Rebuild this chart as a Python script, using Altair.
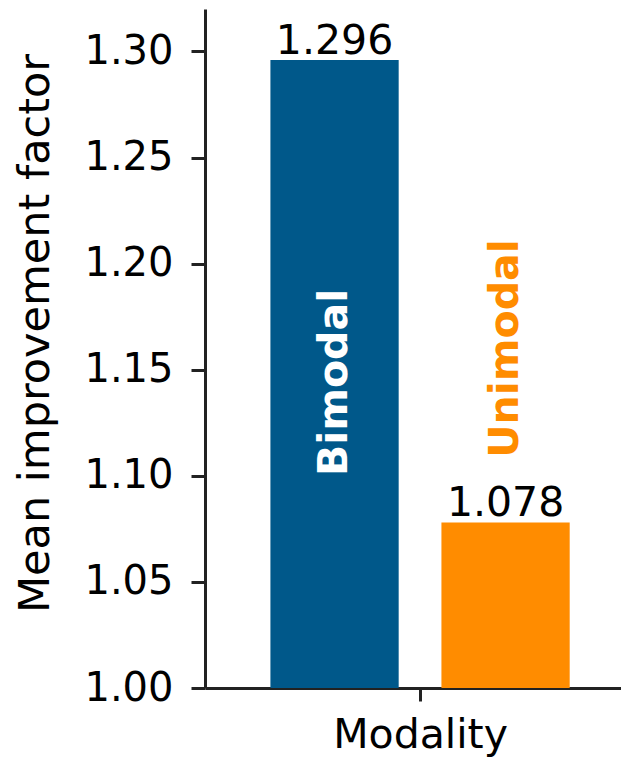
import altair as alt
import pandas as pd

# ---- data ----
categories = ["Bimodal", "Unimodal"]
values = [1.296, 1.078]
colors = ["#00588a", "#ff8c00"]
name_label_colors = ["#ffffff", "#ff8c00"]
y_ticks = [1.00, 1.05, 1.10, 1.15, 1.20, 1.25, 1.30]

# ---- layout constants ----
BAR_CENTERS = [-0.2, 0.2]
BAR_WIDTH = 0.3
NAME_LABEL_Y = [1.144, 1.160]
BASE = 1.0
FONT = "DejaVu Sans"

df = pd.DataFrame({
    "modality": categories,
    "value": values,
    "center": BAR_CENTERS,
    "label_y": NAME_LABEL_Y,
    "label_color": name_label_colors,
})
df["x_start"] = df["center"] - BAR_WIDTH / 2
df["x_end"] = df["center"] + BAR_WIDTH / 2
df["base"] = BASE
df["value_text"] = df["value"].map(lambda v: f"{v:.3f}")

xscale = alt.Scale(domain=[-0.503, 0.470], nice=False, zero=False)
yscale = alt.Scale(domain=[1.0, 1.32], nice=False, zero=False)

x_axis = alt.Axis(
    values=[0], labelExpr="'Modality'", title=None, grid=False,
    labelFont=FONT, labelFontSize=41, labelColor="black",
    tickSize=13, tickWidth=3, tickColor="#222222",
    domainWidth=3, domainColor="#222222", labelPadding=14,
)
y_axis = alt.Axis(
    values=y_ticks, format=".2f", title="Mean improvement factor", grid=False,
    labelFont=FONT, labelFontSize=40, labelColor="black",
    tickSize=14, tickWidth=3, tickColor="#222222",
    domainWidth=3, domainColor="#222222", labelPadding=18,
    titleFont=FONT, titleFontSize=43, titleFontWeight="normal", titleColor="black",
    titleAngle=270, titleAlign="center", titleBaseline="middle",
    titleX=-170, titleY=324,
)

base = alt.Chart(df)

bars = base.mark_bar().encode(
    x=alt.X("x_start:Q", scale=xscale, axis=x_axis),
    x2="x_end:Q",
    y=alt.Y("value:Q", scale=yscale, axis=y_axis),
    y2="base:Q",
    color=alt.Color("modality:N", scale=alt.Scale(domain=categories, range=colors), legend=None),
)

value_labels = base.mark_text(
    font=FONT, fontSize=41, baseline="alphabetic", align="center", dy=-6, color="black"
).encode(
    x=alt.X("center:Q", scale=xscale),
    y=alt.Y("value:Q", scale=yscale),
    text="value_text:N",
)

name_labels = base.mark_text(
    font=FONT, fontSize=41, fontWeight="bold", angle=270,
    baseline="middle", align="center",
).encode(
    x=alt.X("center:Q", scale=xscale),
    y=alt.Y("label_y:Q", scale=yscale),
    text="modality:N",
    color=alt.Color("label_color:N", scale=None),
)

chart = alt.layer(bars, value_labels, name_labels).properties(
    width=416, height=679,
    padding={"left": 205, "top": 9, "right": 0, "bottom": 74},
    autosize=alt.AutoSizeParams(type="none"),
    background="white",
).configure_view(stroke=None)

chart.save("out.html", embed_options={"renderer": "svg", "actions": False})
